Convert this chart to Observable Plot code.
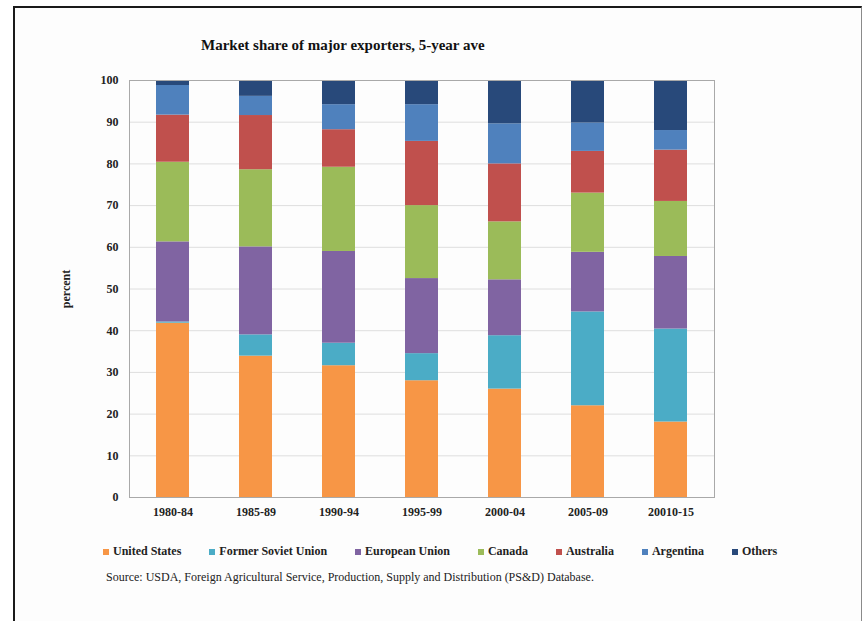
<!DOCTYPE html>
<html>
<head>
<meta charset="utf-8">
<script src="https://cdn.jsdelivr.net/npm/d3@7"></script>
<script src="https://cdn.jsdelivr.net/npm/@observablehq/plot@0.6"></script>
<style>
  body { margin: 0; background: #fff; }
  #wrap { position: relative; width: 868px; height: 621px; overflow: hidden; background: #fff; }
  #frame { position: absolute; left: 13px; top: 6px; width: 846px; height: 700px;
           border-left: 2px solid #1a1a1a; border-top: 2px solid #1a1a1a; border-right: 1px solid #8a8a8a; background: #fdfdfd; }
  #title { position: absolute; left: 201px; top: 37px; font: bold 15px "Liberation Serif", serif; color: #111; white-space: nowrap; }
  #chart { position: absolute; left: 0; top: 0; }
  #legend { position: absolute; left: 103px; top: 535px; }
  #source { position: absolute; left: 106px; top: 570px; font: 12px "Liberation Serif", serif; color: #222; white-space: nowrap; }
  .lg-swatch { margin-right: 28px !important; }
  .lg-swatch svg { margin-right: 4px !important; }
</style>
</head>
<body>
<div id="wrap">
  <div id="frame"></div>
  <div id="title">Market share of major exporters, 5-year ave</div>
  <div id="chart"></div>
  <div id="legend"></div>
  <div id="source">Source: USDA, Foreign Agricultural Service, Production, Supply and Distribution (PS&amp;D) Database.</div>
</div>
<script>
// Five-year periods (labels as published)
const periods = ["1980-84", "1985-89", "1990-94", "1995-99", "2000-04", "2005-09", "20010-15"];

// Exporters, stacked bottom to top
const exporters = ["United States", "Former Soviet Union", "European Union", "Canada", "Australia", "Argentina", "Others"];
const exporterColors = ["#F79646", "#4BACC6", "#8064A2", "#9BBB59", "#C0504D", "#4F81BD", "#28497A"];

// Market share (percent) per period
const unitedStates      = [41.8, 33.9, 31.6, 28.0, 26.0, 22.0, 18.1];
const formerSovietUnion = [ 0.3,  5.1,  5.4,  6.5, 12.8, 22.5, 22.3];
const europeanUnion     = [19.2, 21.1, 22.0, 18.0, 13.4, 14.3, 17.4];
const canada            = [19.1, 18.5, 20.2, 17.5, 13.9, 14.2, 13.2];
const australia         = [11.3, 13.0,  9.0, 15.4, 13.9, 10.0, 12.3];
const argentina         = [ 7.1,  4.6,  6.0,  8.8,  9.6,  6.8,  4.7];
const others            = [ 1.2,  3.8,  5.8,  5.8, 10.4, 10.2, 12.0];

const yTicks = [0, 10, 20, 30, 40, 50, 60, 70, 80, 90, 100];

const series = [unitedStates, formerSovietUnion, europeanUnion, canada, australia, argentina, others];
const rows = [];
periods.forEach((period, i) => {
  exporters.forEach((exporter, j) => {
    rows.push({period, exporter, share: series[j][i]});
  });
});

const chart = Plot.plot({
  width: 868,
  height: 540,
  marginLeft: 129,
  marginRight: 154,
  marginTop: 80,
  marginBottom: 43,
  style: {fontFamily: "'Liberation Serif', serif", fontSize: "12px", fontWeight: "bold", color: "#222", background: "transparent"},
  x: {type: "band", domain: periods, paddingInner: 0.6, paddingOuter: 0.3, label: null},
  y: {domain: [0, 100], label: "percent"},
  color: {domain: exporters, range: exporterColors},
  marks: [
    Plot.ruleY(yTicks.filter(d => d > 0 && d < 100), {stroke: "#dedede", strokeWidth: 1}),
    Plot.barY(rows, {x: "period", y: "share", fill: "exporter", order: null}),
    Plot.frame({stroke: "#a9a9a9"}),
    Plot.axisY({ticks: yTicks, tickSize: 0, tickPadding: 11, label: "percent", labelAnchor: "center", labelArrow: "none", labelOffset: 68, fontSize: 12}),
    Plot.axisX({tickSize: 0, tickPadding: 10, label: null, fontSize: 12})
  ]
});
document.getElementById("chart").appendChild(chart);

const legend = chart.legend("color", {
  swatchSize: 6,
  className: "lg",
  style: {font: "bold 12px 'Liberation Serif', serif", color: "#222"}
});
document.getElementById("legend").appendChild(legend);
</script>
</body>
</html>
